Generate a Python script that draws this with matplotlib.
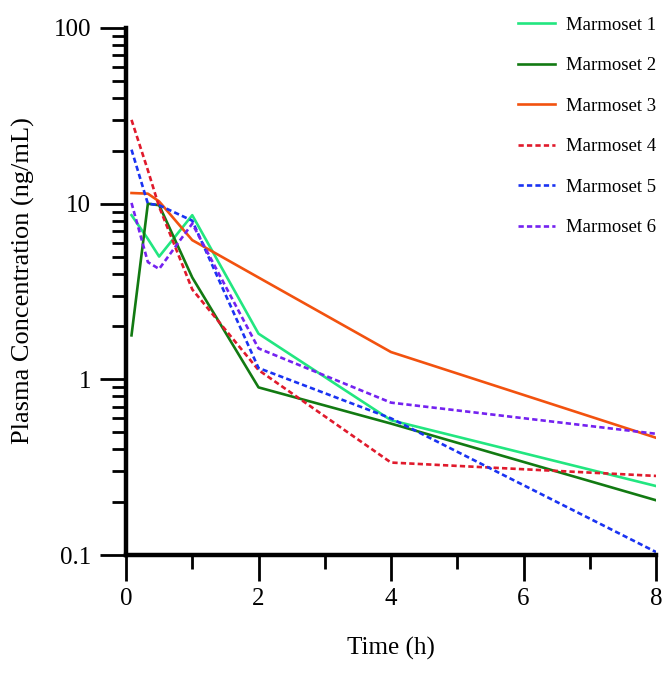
import matplotlib
matplotlib.use('Agg')
import matplotlib.pyplot as plt
from matplotlib.ticker import LogLocator, FixedLocator, FuncFormatter

plt.rcParams['font.family'] = ['Liberation Serif', 'DejaVu Serif']

# sampling times (h)
time = [0.083, 0.33, 0.5, 1, 2, 4, 8]

# plasma concentrations (ng/mL)
m1 = [8.6, 6.3, 5.0, 8.6, 1.82, 0.585, 0.247]
m2 = [1.78, 10.0, 9.8, 3.8, 0.90, 0.56, 0.205]
m3 = [11.5, 11.4, 10.3, 6.2, 3.8, 1.43, 0.465]
m4 = [30.0, 15.5, 9.6, 3.25, 1.13, 0.336, 0.282]
m5 = [20.3, 10.0, 9.8, 8.0, 1.16, 0.60, 0.104]
m6 = [10.1, 4.65, 4.25, 7.7, 1.50, 0.737, 0.49]

names = ['Marmoset 1', 'Marmoset 2', 'Marmoset 3',
         'Marmoset 4', 'Marmoset 5', 'Marmoset 6']
colors = ['#22E680', '#127A12', '#F2520F', '#E01A2C', '#1A33F2', '#7422F0']
solid = [True, True, True, False, False, False]

fig = plt.figure(figsize=(6.66, 6.73), dpi=100)
ax = fig.add_axes([0.1892, 0.1753, 0.7958, 0.7831])

for y, name, c, s in zip([m1, m2, m3, m4, m5, m6], names, colors, solid):
    if s:
        ax.plot(time, y, color=c, lw=1.9, label=name)
    else:
        ax.plot(time, y, color=c, lw=1.9, ls=(0, (2.0, 1.2)), label=name)

ax.set_yscale('log')
ax.set_ylim(0.1, 100)
ax.set_xlim(0, 8)

ax.xaxis.set_major_locator(FixedLocator([0, 2, 4, 6, 8]))
ax.xaxis.set_minor_locator(FixedLocator([1, 3, 5, 7]))
ax.yaxis.set_major_locator(LogLocator(base=10, numticks=10))
ax.yaxis.set_minor_locator(LogLocator(base=10, subs=range(2, 10), numticks=10))
ax.yaxis.set_major_formatter(FuncFormatter(lambda v, p: '%g' % v))
ax.yaxis.set_minor_formatter(FuncFormatter(lambda v, p: ''))

for side in ['top', 'right']:
    ax.spines[side].set_visible(False)
for side in ['left', 'bottom']:
    ax.spines[side].set_linewidth(3.2)

ax.tick_params(axis='both', which='major', direction='out', length=19, width=2,
               labelsize=18, pad=5)
ax.tick_params(axis='both', which='minor', direction='out', length=10, width=2)
ax.tick_params(axis='y', which='major', pad=6)

ax.set_xlabel('Time (h)', fontsize=18)
ax.set_ylabel('Plasma Concentration (ng/mL)', fontsize=19)
ax.xaxis.set_label_coords(0.5, -0.155)
ax.yaxis.set_label_coords(-0.172, 0.52)

fig.legend(loc='upper right', bbox_to_anchor=(1.0045, 0.995), frameon=False,
           fontsize=13.5, handlelength=2.0, handletextpad=0.55, labelspacing=1.25,
           borderpad=0.2)

fig.savefig('out.png', dpi=100)
